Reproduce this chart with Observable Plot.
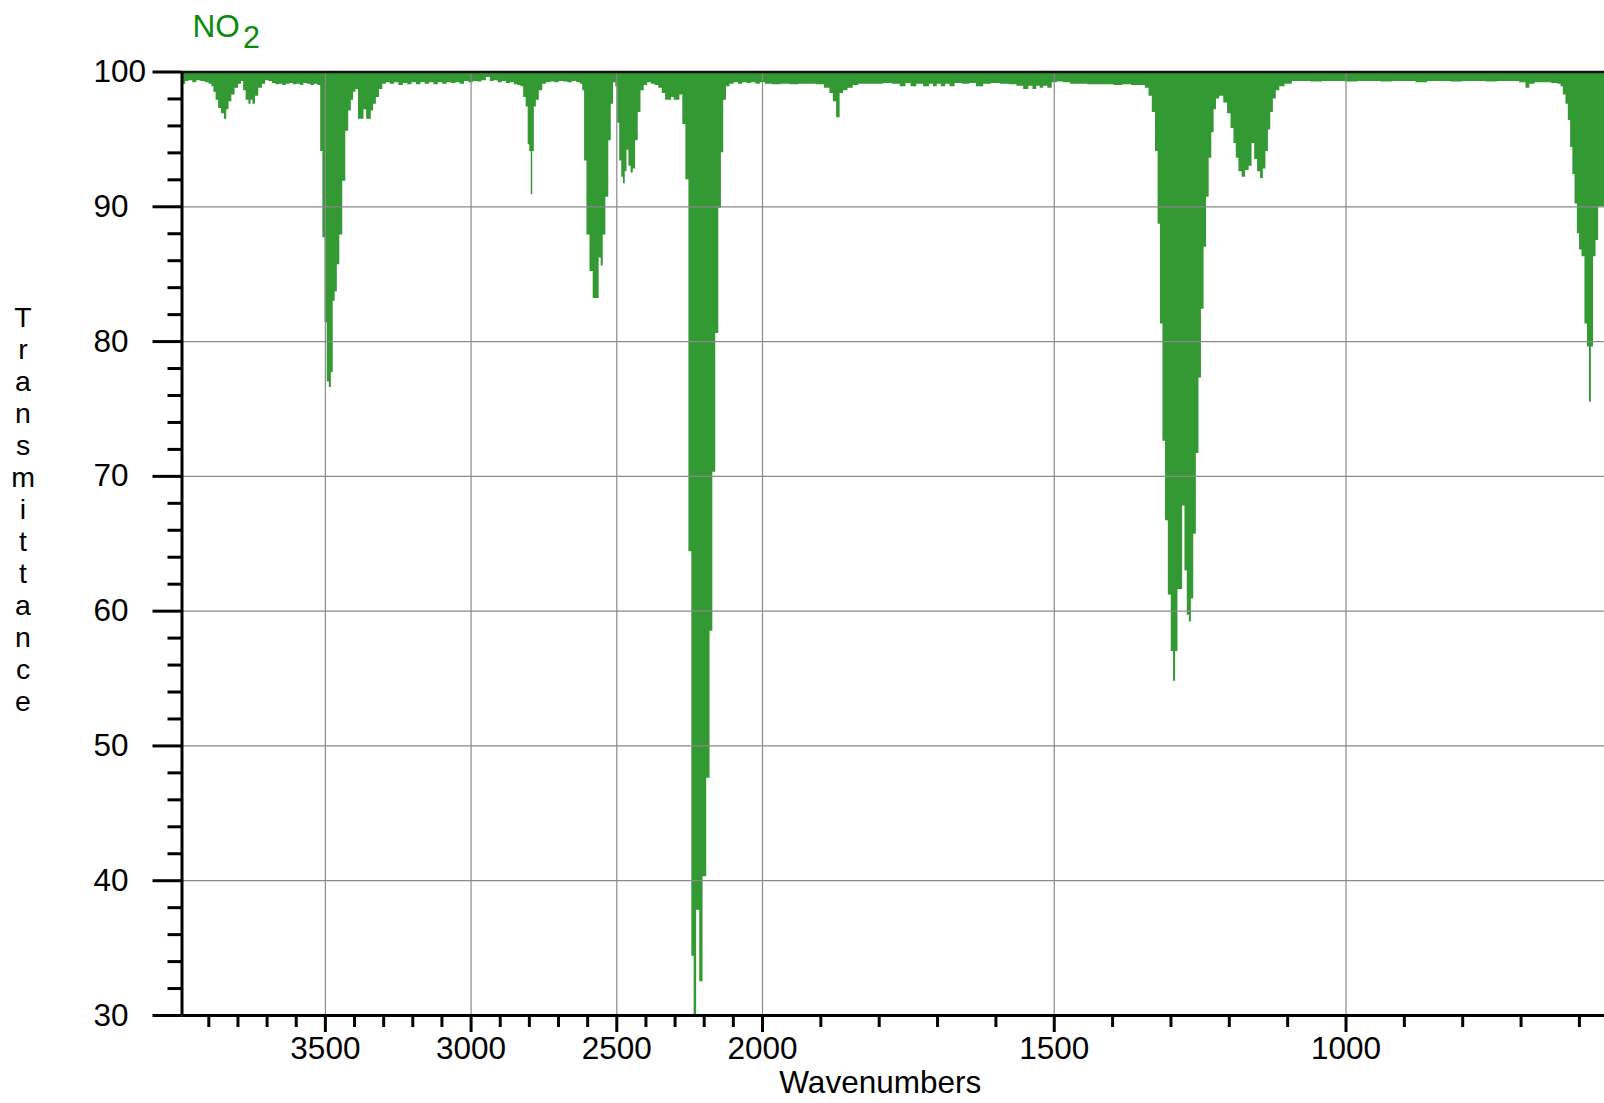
<!DOCTYPE html>
<html>
<head>
<meta charset="utf-8">
<script src="https://cdn.jsdelivr.net/npm/d3@7"></script>
<script src="https://cdn.jsdelivr.net/npm/@observablehq/plot@0.6"></script>
<style>
  html, body { margin: 0; padding: 0; background: #ffffff; }
  #chart svg { display: block; }
</style>
</head>
<body>
<div id="chart"></div>
<script>
// ---- Data (wavenumber in cm-1, transmittance in %) ----
const wavenumber = [
  3992, 3984, 3975, 3962, 3948, 3935, 3920, 3905, 3893, 3886, 3879, 3871, 3862, 3851, 3842, 3835,
  3826, 3816, 3804, 3792, 3784, 3777, 3767, 3758, 3752, 3745, 3735, 3722, 3710, 3700, 3688, 3676,
  3664, 3652, 3640, 3628, 3616, 3604, 3592, 3580, 3568, 3556, 3544, 3532, 3520, 3512, 3505, 3497,
  3490, 3483, 3476, 3470, 3463, 3455, 3446, 3435, 3425, 3415, 3407, 3399, 3391, 3382, 3372, 3363,
  3354, 3346, 3339, 3330, 3320, 3309, 3297, 3285, 3270, 3255, 3240, 3225, 3210, 3195, 3180, 3165,
  3150, 3135, 3120, 3105, 3090, 3075, 3060, 3045, 3030, 3015, 3000, 2985, 2970, 2955, 2940, 2928,
  2914, 2900, 2886, 2872, 2858, 2845, 2834, 2824, 2815, 2807, 2801, 2796, 2791, 2786, 2780, 2772,
  2760, 2748, 2735, 2720, 2705, 2690, 2675, 2660, 2645, 2630, 2620, 2614, 2607, 2598, 2586, 2576,
  2564, 2557, 2550, 2543, 2532, 2523, 2515, 2507, 2500, 2494, 2486, 2480, 2474, 2468, 2462, 2455,
  2447, 2440, 2431, 2422, 2412, 2400, 2388, 2375, 2362, 2350, 2338, 2327, 2316, 2308, 2298, 2288,
  2279, 2268, 2258, 2247, 2238, 2231, 2221, 2210, 2198, 2185, 2175, 2166, 2155, 2145, 2137, 2129,
  2118, 2105, 2090, 2075, 2060, 2045, 2030, 2015, 2000,
  1990, 1975, 1960, 1945, 1930, 1915, 1900, 1888, 1881, 1876, 1870, 1864, 1858, 1849, 1840, 1830,
  1815, 1800, 1785, 1770, 1758, 1750, 1741, 1730, 1718, 1710, 1704, 1697, 1690, 1682, 1675, 1665,
  1650, 1640, 1627, 1615, 1600, 1585, 1570, 1558, 1547, 1540, 1533, 1527, 1521, 1515, 1507, 1500,
  1490, 1478, 1466, 1450, 1435, 1420, 1405, 1390, 1375, 1360, 1348, 1340, 1335, 1329, 1324, 1320,
  1316, 1311.5, 1307, 1302, 1297, 1294, 1290, 1286, 1282, 1278, 1274, 1270, 1267, 1263, 1259, 1254,
  1250, 1245.5, 1241, 1237, 1232, 1228, 1224, 1220, 1213, 1206, 1200, 1194, 1190, 1186, 1181, 1175,
  1169, 1163, 1159, 1154, 1149, 1144, 1139.5, 1135, 1131, 1127, 1122, 1117, 1110, 1099, 1085, 1070,
  1050, 1030, 1010, 990, 970, 950, 930, 910, 890, 870, 850, 830, 810, 790, 770, 750,
  730, 710, 695, 688, 682, 670, 655, 640, 633, 630, 625, 621, 617, 613, 609.5, 605.5,
  601.5, 598, 593, 588, 584.5, 581, 578, 573.5, 569.5, 564.5, 557
];
const transmittance = [
  99.0, 99.1, 99.3, 99.35, 99.2, 99.35, 99.3, 99.2, 99.1, 98.9, 98.5, 97.9, 97.3, 96.9, 96.5, 97.2,
  97.8, 98.3, 98.8, 99.1, 99.3, 98.6, 97.9, 97.6, 97.9, 97.6, 98.2, 98.8, 99.1, 99.35, 99.3, 99.15,
  99.05, 99.1, 99.0, 99.1, 99.15, 99.05, 99.1, 99.0, 99.15, 99.1, 99.0, 99.1, 99.0, 94.1, 87.7, 81.4,
  77.0, 76.6, 77.7, 83.0, 83.7, 85.7, 87.9, 91.9, 95.6, 97.1, 97.9, 98.5, 98.7, 96.5, 96.5, 97.2,
  96.5, 96.5, 97.1, 97.6, 98.1, 98.7, 99.1, 99.2, 99.1, 99.2, 99.0, 99.15, 99.05, 99.2, 99.05, 99.2,
  99.1, 99.2, 99.05, 99.2, 99.1, 99.2, 99.15, 99.2, 99.1, 99.3, 99.2, 99.3, 99.25, 99.35, 99.6, 99.3,
  99.35, 99.2, 99.3, 99.15, 99.2, 99.05, 99.0, 98.9, 98.1, 97.4, 94.6, 94.1, 90.9, 94.1, 97.4, 97.9,
  98.6, 99.1, 99.2, 99.25, 99.2, 99.3, 99.25, 99.2, 99.3, 99.2, 99.1, 98.6, 93.4, 87.9, 85.2, 83.2,
  83.2, 86.2, 85.6, 87.9, 90.7, 94.9, 97.6, 99.2, 98.9, 96.2, 93.4, 92.2, 91.7, 92.6, 94.2, 93.0,
  92.5, 92.8, 94.9, 97.0, 98.6, 99.0, 99.2, 99.1, 99.0, 98.8, 98.4, 97.9, 97.9, 98.1, 97.9, 97.9,
  98.3, 96.1, 92.0, 64.4, 34.4, 30.0, 37.8, 32.5, 40.3, 47.6, 58.5, 70.3, 80.6, 89.9, 94.0, 97.9,
  98.9, 99.1, 99.2, 99.1, 99.2, 99.15, 99.2, 99.1, 99.2,
  99.1, 99.05, 99.1, 99.05, 99.1, 99.1, 99.05, 98.8, 98.4, 97.8, 96.6, 98.4, 98.6, 98.8, 99.0, 99.1,
  99.1, 99.1, 99.15, 99.1, 98.9, 99.15, 98.9, 99.1, 98.9, 99.1, 98.9, 99.1, 98.9, 99.1, 98.9, 99.15,
  99.1, 99.15, 98.9, 99.1, 99.15, 99.1, 99.05, 98.95, 98.7, 98.95, 98.7, 98.95, 98.8, 98.95, 98.8, 99.2,
  99.25, 99.2, 99.1, 99.1, 99.05, 99.05, 99.05, 99.0, 99.05, 99.0, 99.0, 98.8, 98.2, 97.0, 94.1, 88.7,
  81.3, 72.6, 66.7, 61.2, 57.0, 54.8, 57.0, 61.6, 61.6, 67.8, 63.0, 59.7, 59.2, 60.9, 65.7, 71.7,
  77.3, 82.4, 87.0, 90.7, 93.6, 95.5, 97.2, 98.0, 98.2, 97.7, 96.9, 95.8, 94.7, 93.6, 92.6, 92.2,
  92.7, 93.0, 94.7, 93.5, 92.6, 92.1, 92.8, 94.1, 95.7, 97.0, 98.0, 98.6, 98.9, 99.1, 99.3, 99.3,
  99.25, 99.3, 99.3, 99.25, 99.3, 99.3, 99.25, 99.3, 99.3, 99.2, 99.3, 99.3, 99.25, 99.3, 99.3, 99.25,
  99.3, 99.3, 99.2, 98.8, 99.1, 99.2, 99.2, 99.15, 99.1, 98.9, 98.3, 97.6, 96.4, 94.4, 92.4, 90.2,
  88.0, 86.8, 86.3, 81.3, 79.6, 75.5, 79.6, 86.3, 87.5, 90.0, 90.0
];

// ---- Axis ticks and labels ----
const xMajorTicks = [3500, 3000, 2500, 2000, 1500, 1000];
const xTickLabels = ["3500", "3000", "2500", "2000", "1500", "1000"];
const xMinorTicks = [3900, 3800, 3700, 3600, 3400, 3300, 3200, 3100, 2900, 2800, 2700, 2600,
  2400, 2300, 2200, 2100, 1900, 1800, 1700, 1600, 1400, 1300, 1200, 1100, 900, 800, 700, 600];
const yMajorTicks = [30, 40, 50, 60, 70, 80, 90, 100];
const yMinorTicks = [32, 34, 36, 38, 42, 44, 46, 48, 52, 54, 56, 58, 62, 64, 66, 68,
  72, 74, 76, 78, 82, 84, 86, 88, 92, 94, 96, 98];
const xGrid = [3500, 3000, 2500, 2000, 1500, 1000];
const yGrid = [40, 50, 60, 70, 80, 90];

// x axis: expanded scale below 2000 cm-1 (two linear segments)
const xBreaks = [3992, 2000, 557];
const yDomain = [30, 100];

const titleMain = "NO";
const titleSub = "2";
const xLabel = "Wavenumbers";
const yLabel = "Transmittance";

const spectrum = wavenumber.map((w, i) => ({w, t: transmittance[i]}));

const W = 1604, H = 1103;
const mLeft = 181.5, mRight = 0, mTop = 71.5, mBottom = 88;
const plotRight = W - mRight;
// piecewise position range: 2000 cm-1 sits at x = 762
const xRange = [mLeft, 762, plotRight];

const FILL = "#339933";
const TITLE = "#0b8a0b";
const GRID = "#8a8a8a";
const FONT = "'Liberation Sans', Arial, Helvetica, sans-serif";
const FS = 31.5;
const FS_YLABEL = 28.5;

const chart = Plot.plot({
  width: W,
  height: H,
  marginLeft: mLeft,
  marginRight: mRight,
  marginTop: mTop,
  marginBottom: mBottom,
  style: {fontFamily: FONT, fontSize: FS + "px", background: "#ffffff", color: "#000000"},
  x: {type: "linear", domain: xBreaks, range: xRange, label: null},
  y: {type: "linear", domain: yDomain, range: [H - mBottom, mTop], label: null},
  marks: [
    Plot.areaY(spectrum, {x: "w", y1: 100, y2: "t", curve: "step", fill: FILL}),
    Plot.ruleX(xGrid, {stroke: GRID, strokeWidth: 1.2}),
    Plot.ruleY(yGrid, {stroke: GRID, strokeWidth: 1.2}),
    Plot.ruleY([100], {stroke: "#111111", strokeWidth: 2.6}),
    Plot.ruleX([xBreaks[0]], {stroke: "#000000", strokeWidth: 3}),
    Plot.ruleY([yDomain[0]], {stroke: "#000000", strokeWidth: 3}),
    Plot.axisY({anchor: "left", ticks: yMajorTicks, tickSize: 29, tickPadding: 59.5, strokeWidth: 3,
      fontSize: FS, textAnchor: "start", label: null, tickFormat: d => String(d)}),
    Plot.axisY({anchor: "left", ticks: yMinorTicks, tickSize: 14, strokeWidth: 3,
      label: null, tickFormat: () => ""}),
    Plot.axisX({anchor: "bottom", ticks: xMajorTicks, tickSize: 17, tickPadding: 4, strokeWidth: 3,
      fontSize: FS, label: null, tickFormat: d => xTickLabels[xMajorTicks.indexOf(d)]}),
    Plot.axisX({anchor: "bottom", ticks: xMinorTicks, tickSize: 12, strokeWidth: 3,
      label: null, tickFormat: () => ""}),
    Plot.text([xLabel], {frameAnchor: "bottom", lineAnchor: "bottom", textAnchor: "middle",
      dx: -13, dy: 77, fontSize: FS, fill: "#000000"}),
    Plot.text([yLabel.split("").join("\n")], {frameAnchor: "top-left", lineAnchor: "top", textAnchor: "middle",
      dx: -159, dy: 232, lineHeight: 32 / FS_YLABEL, fontSize: FS_YLABEL, fill: "#000000"}),
    Plot.text([titleMain], {frameAnchor: "top-left", lineAnchor: "bottom", textAnchor: "start",
      dx: 10.5, dy: -35.5, fontSize: 31.5, fill: TITLE}),
    Plot.text([titleSub], {frameAnchor: "top-left", lineAnchor: "bottom", textAnchor: "start",
      dx: 61, dy: -24, fontSize: 30.5, fill: TITLE})
  ]
});

document.getElementById("chart").append(chart);
</script>
</body>
</html>
